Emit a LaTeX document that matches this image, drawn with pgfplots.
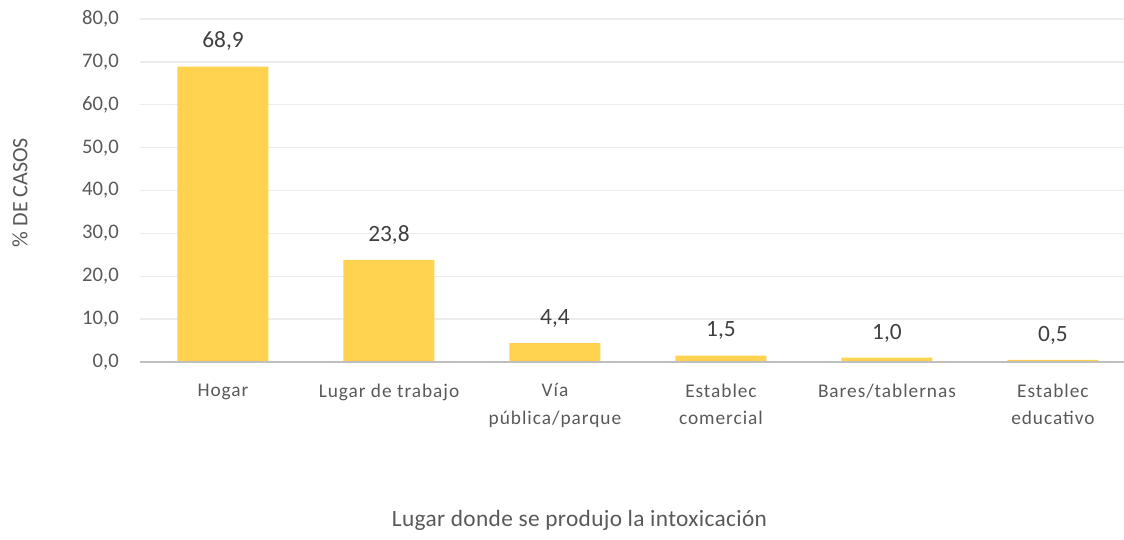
\documentclass[border=0pt]{standalone}
\usepackage{pgfplots}
\pgfplotsset{compat=1.18}
\usepackage{fontspec}
\setmainfont{Carlito}
\newfontfamily\xlabfont[LetterSpace=5]{Carlito}
\newfontfamily\titlefont[LetterSpace=1.5]{Carlito}
\definecolor{barcol}{RGB}{255,210,79}
\definecolor{txt}{RGB}{89,89,89}
\definecolor{dtxt}{RGB}{64,64,64}
\definecolor{gridc}{RGB}{236,236,236}
\definecolor{axc}{RGB}{191,191,191}
\begin{document}
\begin{tikzpicture}
\begin{axis}[
  scale only axis,
  width=738pt, height=257.25pt,
  xmin=-0.5, xmax=5.428,
  ymin=0, ymax=80,
  ytick={0,10,...,80},
  xtick={0,1,2,3,4,5},
  xticklabels={Hogar,Lugar de trabajo,Vía\\pública/parque,Establec\\comercial,Bares/tablernas,Establec\\educativo},
  axis line style={draw=none},
  axis x line*=bottom,
  axis y line*=left,
  major tick length=0pt,
  ymajorgrids,
  grid style={gridc, line width=1pt},
  ybar, bar width=68.25pt,
  /pgf/number format/.cd, fixed, fixed zerofill, precision=1, use comma, assume math mode=true,
  /pgfplots/.cd,
  yticklabel style={font=\fontsize{15.5}{18}\selectfont, text=txt, inner sep=0pt, xshift=-15.75pt},
  xticklabel style={font=\xlabfont\fontsize{14.5}{20.5}\selectfont, text=txt, align=center, anchor=north, inner sep=0pt, yshift=-16pt},
  nodes near coords,
  nodes near coords style={font=\fontsize{17.5}{20}\selectfont, text=dtxt, anchor=base, inner sep=0pt, yshift=14pt,
    /pgf/number format/.cd, fixed, fixed zerofill, precision=1, use comma, assume math mode=true},
  clip=false,
]
\addplot[fill=barcol, draw=none] coordinates {(0,68.9) (1,23.8) (2,4.4) (3,1.5) (4,1.0) (5,0.5)};
\end{axis}
\begin{scope}[shift={(current axis.south west)}, x=0.75pt, y=0.75pt]
  \draw[axc, line width=1.75pt] (0,0) -- (984,0);
  \node[rotate=90, anchor=base, text=txt, inner sep=0pt, font=\fontsize{16.5}{18}\selectfont] at (-112.7,169.5) {\% DE CASOS};
  \node[anchor=base, text=txt, inner sep=0pt, font=\titlefont\fontsize{17.5}{20}\selectfont] at (439.5,-164) {Lugar donde se produjo la intoxicación};
  \pgfresetboundingbox
  \path[use as bounding box] (-140,-177) rectangle (984,362);
\end{scope}
\end{tikzpicture}
\end{document}
